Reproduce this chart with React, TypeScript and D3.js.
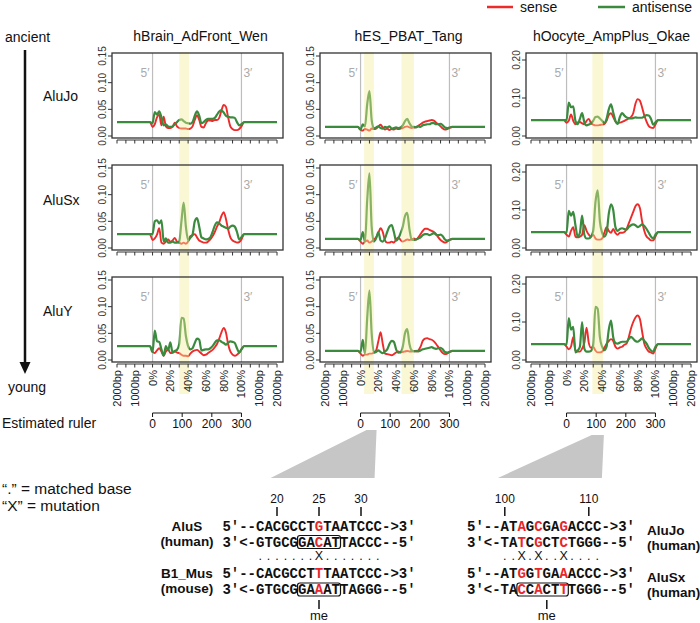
import React from "react";
import * as d3 from "d3";

// ---------------- data ----------------
const samples = ["hBrain_AdFront_Wen", "hES_PBAT_Tang", "hOocyte_AmpPlus_Okae"];
const families = ["AluJo", "AluSx", "AluY"];
const xTickPos = [-40, -20, 0, 20, 40, 60, 80, 100, 120, 140];
const xTickLabels = ["2000bp", "1000bp", "0%", "20%", "40%", "60%", "80%", "100%", "1000bp", "2000bp"];
const bodyX = [0, 2.5, 5, 7.5, 10, 12.5, 15, 17.5, 20, 22.5, 25, 27.5, 30, 32.5, 35, 37.5, 40, 42.5, 45, 47.5, 50, 52.5, 55, 57.5, 60, 62.5, 65, 67.5, 70, 72.5, 75, 77.5, 80, 82.5, 85, 87.5, 90, 92.5, 95, 97.5, 100];
const yMax = [0.15, 0.15, 0.2];
const yTicksA = [0, 0.05, 0.1, 0.15];
const yTicksB = [0, 0.1, 0.2];
const flankLevel = [
  [0.026, 0.017, 0.042],
  [0.026, 0.017, 0.042],
  [0.026, 0.017, 0.042],
];
const bandsBrain = [[30, 41]];
const bandsES = [[4, 15], [46, 60]];
const bandsOocyte = [[29, 41]];
const rulerTicks = [0, 100, 200, 300];
const zoomES = [20, 54];
const zoomOocyte = [85, 126];

// hBrain
const brainJoSense = [0.017, 0.022, 0.035, 0.040, 0.020, 0.036, 0.018, 0.015, 0.015, 0.017, 0.025, 0.018, 0.015, 0.014, 0.014, 0.014, 0.013, 0.014, 0.018, 0.030, 0.039, 0.030, 0.017, 0.016, 0.024, 0.029, 0.029, 0.028, 0.030, 0.030, 0.034, 0.048, 0.058, 0.055, 0.035, 0.018, 0.013, 0.011, 0.011, 0.013, 0.018];
const brainJoAnti = [0.024, 0.045, 0.040, 0.046, 0.035, 0.020, 0.022, 0.018, 0.017, 0.018, 0.022, 0.026, 0.030, 0.031, 0.028, 0.025, 0.024, 0.023, 0.026, 0.038, 0.046, 0.038, 0.024, 0.026, 0.030, 0.032, 0.032, 0.032, 0.034, 0.040, 0.046, 0.048, 0.044, 0.038, 0.036, 0.035, 0.035, 0.034, 0.026, 0.020, 0.022];
const brainSxSense = [0.015, 0.018, 0.025, 0.037, 0.010, 0.008, 0.012, 0.016, 0.012, 0.014, 0.019, 0.012, 0.010, 0.008, 0.010, 0.008, 0.012, 0.022, 0.024, 0.026, 0.020, 0.014, 0.012, 0.010, 0.010, 0.012, 0.016, 0.022, 0.030, 0.040, 0.048, 0.060, 0.067, 0.055, 0.035, 0.020, 0.014, 0.012, 0.010, 0.011, 0.016];
const brainSxAnti = [0.026, 0.050, 0.052, 0.046, 0.052, 0.012, 0.018, 0.010, 0.010, 0.012, 0.010, 0.010, 0.012, 0.050, 0.085, 0.040, 0.015, 0.019, 0.025, 0.050, 0.056, 0.040, 0.020, 0.018, 0.016, 0.017, 0.020, 0.030, 0.042, 0.048, 0.046, 0.042, 0.040, 0.038, 0.036, 0.040, 0.042, 0.040, 0.030, 0.016, 0.020];
const brainYSense = [0.016, 0.013, 0.018, 0.022, 0.016, 0.008, 0.016, 0.020, 0.013, 0.014, 0.016, 0.014, 0.013, 0.010, 0.008, 0.008, 0.007, 0.012, 0.016, 0.018, 0.019, 0.016, 0.012, 0.009, 0.010, 0.013, 0.016, 0.019, 0.024, 0.030, 0.040, 0.052, 0.060, 0.052, 0.030, 0.016, 0.010, 0.008, 0.010, 0.014, 0.020];
const brainYAnti = [0.015, 0.055, 0.035, 0.034, 0.020, 0.008, 0.026, 0.018, 0.033, 0.014, 0.017, 0.019, 0.030, 0.079, 0.078, 0.045, 0.026, 0.020, 0.022, 0.032, 0.040, 0.038, 0.018, 0.019, 0.020, 0.020, 0.022, 0.026, 0.032, 0.037, 0.037, 0.034, 0.032, 0.029, 0.032, 0.035, 0.034, 0.032, 0.022, 0.014, 0.020];
// hES
const esJoSense = [0.012, 0.010, 0.013, 0.012, 0.010, 0.014, 0.013, 0.014, 0.018, 0.021, 0.016, 0.012, 0.014, 0.011, 0.013, 0.012, 0.014, 0.013, 0.014, 0.015, 0.017, 0.018, 0.016, 0.015, 0.016, 0.017, 0.019, 0.022, 0.025, 0.027, 0.028, 0.029, 0.030, 0.029, 0.025, 0.022, 0.018, 0.014, 0.012, 0.013, 0.015];
const esJoAnti = [0.012, 0.022, 0.018, 0.060, 0.084, 0.030, 0.014, 0.016, 0.018, 0.015, 0.014, 0.017, 0.016, 0.018, 0.014, 0.015, 0.016, 0.015, 0.016, 0.020, 0.028, 0.032, 0.024, 0.018, 0.017, 0.016, 0.018, 0.017, 0.020, 0.021, 0.022, 0.022, 0.024, 0.024, 0.022, 0.022, 0.023, 0.020, 0.016, 0.015, 0.016];
const esSxSense = [0.012, 0.008, 0.012, 0.014, 0.010, 0.012, 0.016, 0.020, 0.028, 0.037, 0.030, 0.014, 0.010, 0.010, 0.012, 0.010, 0.016, 0.020, 0.015, 0.012, 0.014, 0.016, 0.015, 0.016, 0.018, 0.016, 0.020, 0.026, 0.032, 0.036, 0.036, 0.034, 0.032, 0.030, 0.026, 0.020, 0.015, 0.012, 0.010, 0.012, 0.015];
const esSxAnti = [0.015, 0.030, 0.012, 0.090, 0.140, 0.040, 0.012, 0.018, 0.030, 0.014, 0.012, 0.018, 0.030, 0.040, 0.043, 0.030, 0.014, 0.018, 0.028, 0.040, 0.060, 0.066, 0.035, 0.016, 0.015, 0.016, 0.018, 0.020, 0.024, 0.026, 0.026, 0.024, 0.026, 0.028, 0.025, 0.024, 0.025, 0.022, 0.016, 0.014, 0.015];
const esYSense = [0.012, 0.008, 0.010, 0.010, 0.012, 0.012, 0.014, 0.018, 0.035, 0.052, 0.030, 0.012, 0.011, 0.010, 0.009, 0.011, 0.014, 0.016, 0.014, 0.015, 0.016, 0.017, 0.016, 0.016, 0.017, 0.016, 0.018, 0.025, 0.036, 0.040, 0.041, 0.039, 0.038, 0.035, 0.030, 0.024, 0.018, 0.013, 0.011, 0.012, 0.015];
const esYAnti = [0.015, 0.038, 0.012, 0.080, 0.130, 0.050, 0.014, 0.015, 0.018, 0.015, 0.013, 0.016, 0.020, 0.030, 0.036, 0.034, 0.020, 0.014, 0.015, 0.025, 0.050, 0.058, 0.030, 0.018, 0.016, 0.017, 0.016, 0.018, 0.020, 0.021, 0.022, 0.023, 0.024, 0.022, 0.021, 0.022, 0.023, 0.020, 0.015, 0.014, 0.015];
// hOocyte
const ooJoSense = [0.035, 0.040, 0.057, 0.040, 0.031, 0.036, 0.037, 0.033, 0.031, 0.040, 0.045, 0.034, 0.030, 0.028, 0.028, 0.029, 0.030, 0.031, 0.040, 0.055, 0.060, 0.050, 0.038, 0.034, 0.035, 0.037, 0.040, 0.043, 0.046, 0.050, 0.060, 0.085, 0.097, 0.093, 0.075, 0.054, 0.038, 0.026, 0.022, 0.021, 0.030];
const ooJoAnti = [0.042, 0.088, 0.076, 0.078, 0.040, 0.031, 0.045, 0.060, 0.036, 0.028, 0.030, 0.033, 0.040, 0.050, 0.051, 0.046, 0.040, 0.034, 0.045, 0.070, 0.083, 0.062, 0.040, 0.032, 0.050, 0.060, 0.054, 0.049, 0.047, 0.046, 0.047, 0.049, 0.048, 0.048, 0.048, 0.052, 0.055, 0.054, 0.045, 0.030, 0.036];
const ooSxSense = [0.035, 0.030, 0.045, 0.055, 0.030, 0.028, 0.030, 0.035, 0.060, 0.045, 0.035, 0.030, 0.035, 0.025, 0.022, 0.022, 0.025, 0.040, 0.055, 0.045, 0.040, 0.050, 0.040, 0.035, 0.040, 0.040, 0.042, 0.050, 0.065, 0.080, 0.095, 0.110, 0.115, 0.105, 0.070, 0.045, 0.030, 0.025, 0.020, 0.020, 0.030];
const ooSxAnti = [0.040, 0.098, 0.085, 0.095, 0.060, 0.030, 0.040, 0.085, 0.035, 0.025, 0.025, 0.030, 0.045, 0.120, 0.152, 0.070, 0.040, 0.030, 0.040, 0.090, 0.115, 0.100, 0.055, 0.045, 0.050, 0.052, 0.050, 0.048, 0.055, 0.060, 0.062, 0.060, 0.055, 0.058, 0.062, 0.058, 0.050, 0.040, 0.030, 0.025, 0.035];
const ooYSense = [0.035, 0.028, 0.035, 0.060, 0.026, 0.022, 0.022, 0.030, 0.045, 0.085, 0.045, 0.032, 0.035, 0.025, 0.020, 0.020, 0.022, 0.032, 0.043, 0.050, 0.055, 0.050, 0.035, 0.030, 0.033, 0.035, 0.040, 0.043, 0.060, 0.083, 0.100, 0.112, 0.117, 0.108, 0.075, 0.043, 0.030, 0.022, 0.020, 0.017, 0.030];
const ooYAnti = [0.040, 0.110, 0.080, 0.087, 0.020, 0.025, 0.035, 0.100, 0.030, 0.022, 0.022, 0.024, 0.040, 0.140, 0.135, 0.060, 0.035, 0.026, 0.035, 0.080, 0.104, 0.060, 0.045, 0.043, 0.046, 0.048, 0.048, 0.048, 0.055, 0.061, 0.056, 0.050, 0.048, 0.052, 0.057, 0.050, 0.043, 0.032, 0.025, 0.022, 0.035];

// sequence annotation data
const seqLeft = ["5′--CACGCCTGTAATCCC->3′", "3′<-GTGCGGACATTACCC--5′", "5′--CACGCCTTTAATCCC->3′", "3′<-GTGCGGAAATTAGGG--5′"];
const seqLeftRed = [11];
const seqLeftNames = [["AluS", "(human)"], ["B1_Mus", "(mouse)"]];
const seqLeftPosLabels = ["20", "25", "30"];
const seqLeftPosIdx = [6, 11, 16];
const seqLeftMatch = ".......X.......";
const seqRight = ["5′--ATAGCGAGACCC->3′", "3′<-TATCGCTCTGGG--5′", "5′--ATGGTGAAACCC->3′", "3′<-TACCACTTTGGG--5′"];
const seqRightRed = [6, 8, 11];
const seqRightNames = [["AluJo", "(human)"], ["AluSx", "(human)"]];
const seqRightPosLabels = ["100", "110"];
const seqRightPosIdx = [4, 14];
const seqRightMatch = "..X.X..X....";

// ---------------- layout ----------------
const RED = "#ee2b2b";
const GREEN = "#3b8b3f";
const SEQRED = "#e8262a";
const SANS = "'Liberation Sans', Arial, Helvetica, sans-serif";
const MONO = "'Liberation Mono', 'Courier New', monospace";
const boxLeft = [112, 320, 526];
const boxW = 171;
const boxH = 85;
const rowTop = (r: number) => 53 + 112 * r;
const CW = 8.4;

const panelSeries = [
  [[brainJoSense, brainJoAnti], [esJoSense, esJoAnti], [ooJoSense, ooJoAnti]],
  [[brainSxSense, brainSxAnti], [esSxSense, esSxAnti], [ooSxSense, ooSxAnti]],
  [[brainYSense, brainYAnti], [esYSense, esYAnti], [ooYSense, ooYAnti]],
];
const colBands = [bandsBrain, bandsES, bandsOocyte];
const colZoom = [null, zoomES, zoomOocyte];
const zoomTopY = [0, 430, 435];

function xScale(c: number) {
  return d3.scaleLinear().domain([-40, 140]).range([boxLeft[c] + 5, boxLeft[c] + 165]);
}
function yScale(r: number, c: number) {
  const t = rowTop(r);
  return d3.scaleLinear().domain([0, yMax[c]]).range([t + 83, c === 2 ? t + 7 : t + 3]);
}

function Panel({ r, c }: { r: number; c: number }) {
  const x = xScale(c);
  const y = yScale(r, c);
  const t = rowTop(r);
  const fl = flankLevel[r][c];
  const mk = (arr: number[]) => {
    const pts: [number, number][] = [[-40, fl], [-3, fl]];
    bodyX.forEach((p, i) => pts.push([p, arr[i]]));
    pts.push([103, fl], [140, fl]);
    return pts;
  };
  const line = d3.line<[number, number]>().x((d) => x(d[0])).y((d) => y(d[1])).curve(d3.curveMonotoneX);
  const [sense, anti] = panelSeries[r][c];
  return (
    <g>
      <line x1={x(0)} x2={x(0)} y1={t} y2={t + boxH} stroke="#bdbdbd" strokeWidth={1.2} />
      <line x1={x(100)} x2={x(100)} y1={t} y2={t + boxH} stroke="#bdbdbd" strokeWidth={1.2} />
      <text x={x(0) - 3} y={t + 24} textAnchor="end" fontSize={12} fill="#aaa" fontFamily={SANS}>5′</text>
      <text x={x(100) + 2} y={t + 24} textAnchor="start" fontSize={12} fill="#aaa" fontFamily={SANS}>3′</text>
      <path d={line(mk(sense)) || ""} fill="none" stroke={RED} strokeWidth={1.9} strokeLinejoin="round" />
      <path d={line(mk(anti)) || ""} fill="none" stroke={GREEN} strokeWidth={2.2} strokeLinejoin="round" />
    </g>
  );
}

function Frame({ r, c }: { r: number; c: number }) {
  const x = xScale(c);
  const y = yScale(r, c);
  const t = rowTop(r);
  const bl = boxLeft[c];
  const ticks = c === 2 ? yTicksB : yTicksA;
  const minor = d3.range(-40, 141, 10);
  const fmt = d3.format(".2f");
  const axY = t + boxH + 2;
  return (
    <g fontFamily={SANS}>
      <rect x={bl} y={t} width={boxW} height={boxH} fill="none" stroke="#333" strokeWidth={1.3} />
      {ticks.map((v) => (
        <g key={v}>
          <line x1={bl - 4} x2={bl} y1={y(v)} y2={y(v)} stroke="#333" strokeWidth={1} />
          <text transform={`translate(${bl - 6},${y(v)}) rotate(-90)`} textAnchor="middle" fontSize={10} fill="#333">{fmt(v)}</text>
        </g>
      ))}
      <line x1={x(-40)} x2={x(140)} y1={axY} y2={axY} stroke="#333" strokeWidth={1} />
      {minor.map((v) => (
        <line key={v} x1={x(v)} x2={x(v)} y1={axY} y2={axY + 3.5} stroke="#333" strokeWidth={1} />
      ))}
      {r === 2 &&
        xTickPos.map((v, i) => (
          <text key={v} transform={`translate(${x(v) + 4},${axY + 6}) rotate(-90)`} textAnchor="end" fontSize={11} fill="#222">
            {xTickLabels[i]}
          </text>
        ))}
    </g>
  );
}

function SeqLine({ x0, y, seq, reds }: { x0: number; y: number; seq: string; reds: number[] }) {
  return (
    <text y={y} fontFamily={MONO} fontWeight="bold" fontSize={14} textAnchor="middle">
      {Array.from(seq).map((ch, i) => (
        <tspan key={i} x={x0 + i * CW + CW / 2} fill={reds.includes(i) ? SEQRED : "#111"}>{ch}</tspan>
      ))}
    </text>
  );
}

function MatchLine({ x0, y, start, marks }: { x0: number; y: number; start: number; marks: string }) {
  return (
    <text y={y} fontFamily={SANS} fontSize={12.5} fill="#111" textAnchor="middle">
      {Array.from(marks).map((ch, i) => (
        <tspan key={i} x={x0 + (start + i) * CW + CW / 2}>{ch}</tspan>
      ))}
    </text>
  );
}

function SeqBlock({ x0, seqs, reds, posLabels, posIdx, match, boxes, meIdx }: any) {
  const cx = (i: number) => x0 + i * CW + CW / 2;
  const base = [531, 546.5, 578, 594];
  return (
    <g>
      {posLabels.map((l: string, k: number) => (
        <g key={l}>
          <text x={cx(posIdx[k])} y={503} textAnchor="middle" fontFamily={SANS} fontSize={12} fill="#111">{l}</text>
          <line x1={cx(posIdx[k])} x2={cx(posIdx[k])} y1={507} y2={516} stroke="#111" strokeWidth={1.5} />
        </g>
      ))}
      {seqs.map((s: string, i: number) => (
        <SeqLine key={i} x0={x0} y={base[i]} seq={s} reds={reds} />
      ))}
      <MatchLine x0={x0} y={560} start={4} marks={match} />
      {boxes.map((b: number[], i: number) => (
        <rect key={i} x={x0 + b[1] * CW - 0.5} y={base[b[0]] - 11} width={(b[2] - b[1] + 1) * CW + 1} height={13} rx={2.5} fill="none" stroke="#111" strokeWidth={1.2} />
      ))}
      <line x1={cx(meIdx)} x2={cx(meIdx)} y1={600} y2={609} stroke="#111" strokeWidth={1.5} />
      <text x={cx(meIdx)} y={620} textAnchor="middle" fontFamily={SANS} fontSize={13} fill="#111">me</text>
    </g>
  );
}

export default function App() {
  const rows = [0, 1, 2];
  const cols = [0, 1, 2];
  return (
    <svg width={700} height={623} style={{ position: "absolute", left: 0, top: 0, background: "#fff" }} fontFamily={SANS}>
      <rect x={0} y={0} width={700} height={623} fill="#fff" />
      {/* legend */}
      <line x1={487} x2={513} y1={7} y2={7} stroke={RED} strokeWidth={2.5} />
      <text x={520} y={12} fontSize={14} fill="#111">sense</text>
      <line x1={598} x2={625} y1={7} y2={7} stroke={GREEN} strokeWidth={2.5} />
      <text x={632} y={12} fontSize={14} fill="#111">antisense</text>
      {/* titles */}
      {samples.map((s, c) => (
        <text key={s} x={boxLeft[c] + boxW / 2 + (c === 2 ? 0 : 3)} y={41} textAnchor="middle" fontSize={14} fill="#111">{s}</text>
      ))}
      {/* left axis: ancient -> young */}
      <text x={5} y={42} fontSize={14} fill="#111">ancient</text>
      <line x1={25} x2={25} y1={50} y2={364} stroke="#111" strokeWidth={2.5} />
      <polygon points="19.5,362 30.5,362 25,374" fill="#111" />
      <text x={8} y={392} fontSize={14} fill="#111">young</text>
      {families.map((f, r) => (
        <text key={f} x={43} y={[101, 205, 316][r]} fontSize={14} fill="#111">{f}</text>
      ))}
      {/* panels */}
      {rows.map((r) => cols.map((c) => <Panel key={`${r}-${c}`} r={r} c={c} />))}
      {/* highlight bands */}
      {cols.map((c) =>
        colBands[c].map((b, k) => {
          const x = xScale(c);
          return <rect key={`${c}-${k}`} x={x(b[0])} y={52} width={x(b[1]) - x(b[0])} height={342} fill="#f2ec9a" opacity={0.42} />;
        })
      )}
      {rows.map((r) => cols.map((c) => <Frame key={`f${r}-${c}`} r={r} c={c} />))}
      {/* rulers */}
      <text x={2} y={428} fontSize={14} fill="#111">Estimated ruler</text>
      {cols.map((c) => {
        const x = xScale(c);
        const rs = d3.scaleLinear().domain([0, 300]).range([x(0), x(100)]);
        return (
          <g key={`ru${c}`}>
            <line x1={rs(0)} x2={rs(300)} y1={413} y2={413} stroke="#111" strokeWidth={1} />
            {rulerTicks.map((v) => (
              <g key={v}>
                <line x1={rs(v)} x2={rs(v)} y1={413} y2={417} stroke="#111" strokeWidth={1} />
                <text x={rs(v)} y={428} textAnchor="middle" fontSize={12} fill="#111">{v}</text>
              </g>
            ))}
          </g>
        );
      })}
      {/* zoom wedges */}
      {cols.map((c) => {
        const z = colZoom[c];
        if (!z) return null;
        const x = xScale(c);
        const rs = d3.scaleLinear().domain([0, 300]).range([x(0), x(100)]);
        const pts = [
          [rs(z[0]), zoomTopY[c]],
          [rs(z[1]), zoomTopY[c]],
          [rs(z[1]) - 2, 478],
          [rs(z[1]) - 106, 478],
        ];
        return <polygon key={`z${c}`} points={pts.map((p) => p.join(",")).join(" ")} fill="#c6c6c6" />;
      })}
      {/* key */}
      <text x={2} y={494} fontSize={15.5} fill="#111">“.”  = matched base</text>
      <text x={2} y={511} fontSize={15.5} fill="#111">“X” = mutation</text>
      {/* left sequence block */}
      <SeqBlock x0={222.4} seqs={seqLeft} reds={seqLeftRed} posLabels={seqLeftPosLabels} posIdx={seqLeftPosIdx} match={seqLeftMatch} boxes={[[1, 9, 13], [3, 9, 13]]} meIdx={11} />
      {seqLeftNames.map((nm, k) => (
        <g key={nm[0]} fontWeight="bold" fontSize={13.5} fill="#111" textAnchor="middle">
          <text x={187} y={[531, 578][k]}>{nm[0]}</text>
          <text x={187} y={[546, 593][k]}>{nm[1]}</text>
        </g>
      ))}
      {/* right sequence block */}
      <SeqBlock x0={467} seqs={seqRight} reds={seqRightRed} posLabels={seqRightPosLabels} posIdx={seqRightPosIdx} match={seqRightMatch} boxes={[[3, 6, 11]]} meIdx={9} />
      {seqRightNames.map((nm, k) => (
        <g key={nm[0]} fontWeight="bold" fontSize={13.5} fill="#111">
          <text x={647} y={[535, 582][k]}>{nm[0]}</text>
          <text x={647} y={[550, 597][k]}>{nm[1]}</text>
        </g>
      ))}
    </svg>
  );
}
